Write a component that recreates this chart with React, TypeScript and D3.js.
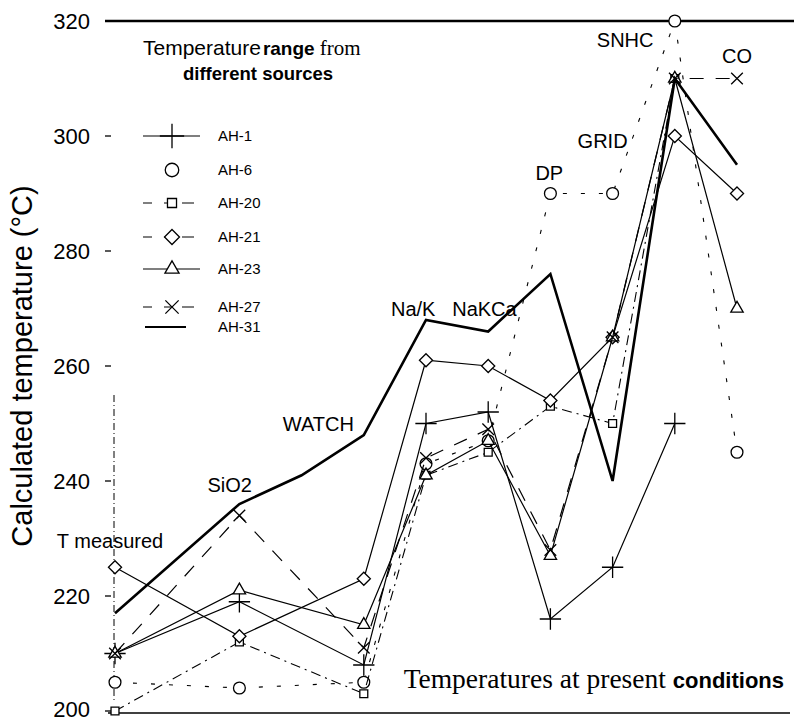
import React from "react";
import * as d3 from "d3";

// ---- data ----
const categories = ["T measured", "", "SiO2", "", "WATCH", "Na/K", "NaKCa", "DP", "GRID", "SNHC", "CO"];
const yTicks = [200, 220, 240, 260, 280, 300, 320];

const ah1 = [210, null, 219, null, 208, 250, 252, 216, 225, 250, null];
const ah6 = [205, null, 204, null, 205, 243, 247, 290, 290, 320, 245];
const ah20 = [200, null, 212, null, 203, 241, 245, 253, 250, 310, null];
const ah21 = [225, null, 213, null, 223, 261, 260, 254, 265, 300, 290];
const ah23 = [210, null, 221, null, 215, 241, 247, 227, 265, 310, 270];
const ah27 = [210, null, 234, null, 211, 244, 249, 228, 265, 310, 310];
const ah31 = [217, null, 236, 241, 248, 268, 266, 276, 240, 310, 295];

const seriesNames = ["AH-1", "AH-6", "AH-20", "AH-21", "AH-23", "AH-27", "AH-31"];
const seriesValues = [ah1, ah6, ah20, ah21, ah23, ah27, ah31];

// ---- styling ----
const W = 794;
const H = 722;
const FONT = "Arial, 'Liberation Sans', sans-serif";
const SERIF = "'Times New Roman', 'Liberation Serif', serif";

type Style = { symbol: any | null; dash: string | null; width: number; size: number };
const styles: Style[] = [
  { symbol: d3.symbolPlus, dash: null, width: 1.2, size: 150 },
  { symbol: d3.symbolCircle, dash: "4,14", width: 1.1, size: 110 },
  { symbol: d3.symbolSquare2, dash: "10,5,2,5", width: 1.1, size: 80 },
  { symbol: d3.symbolDiamond2, dash: null, width: 1.2, size: 110 },
  { symbol: d3.symbolTriangle2, dash: null, width: 1.2, size: 110 },
  { symbol: d3.symbolX, dash: "14,12", width: 1.2, size: 90 },
  { symbol: null, dash: null, width: 2.6, size: 0 },
];

const labelY: Record<string, number> = {
  "T measured": 548,
  SiO2: 492,
  WATCH: 431,
  "Na/K": 316,
  NaKCa: 316,
  DP: 180,
  GRID: 148,
  SNHC: 47,
  CO: 63,
};
const labelDx: Record<string, number> = {
  "T measured": -5,
  SiO2: -32,
  WATCH: -81,
  "Na/K": -35,
  NaKCa: -36,
  DP: -15,
  GRID: -35,
  SNHC: -78,
  CO: -15,
};

export default function App() {
  const x = d3.scaleLinear().domain([0, categories.length - 1]).range([115, 737]);
  const y = d3.scaleLinear().domain([200, 320]).range([711, 21]);

  const line = d3
    .line<{ i: number; v: number }>()
    .x((d) => x(d.i))
    .y((d) => y(d.v));

  const legendY = [136, 170, 203, 237, 269, 307, 327];

  return (
    <svg width={W} height={H} style={{ position: "absolute", left: 0, top: 0, background: "#fff" }}>
      <rect width={W} height={H} fill="#fff" />
      {/* frame lines */}
      <line x1={105} x2={794} y1={y(320)} y2={y(320)} stroke="#000" strokeWidth={2.5} />
      <line x1={108} x2={790} y1={y(200) + 2} y2={y(200) + 2} stroke="#000" strokeWidth={1.4} />
      <line x1={x(0) - 1} x2={x(0) - 1} y1={395} y2={700} stroke="#000" strokeWidth={1} strokeDasharray="7,3,1,3" />

      {/* y ticks */}
      {yTicks.map((t) => (
        <g key={t}>
          <text
            x={90}
            y={t === 200 ? y(t) - 2 : y(t)}
            dy="0.35em"
            textAnchor="end"
            fontFamily={FONT}
            fontSize={22}
            fill="#000"
          >
            {t}
          </text>
          {t !== 320 && <line x1={105} x2={111} y1={y(t)} y2={y(t)} stroke="#000" strokeWidth={1.3} />}
        </g>
      ))}

      {/* y title */}
      <text
        transform={`translate(32,366) rotate(-90)`}
        textAnchor="middle"
        fontFamily={FONT}
        fontSize={29}
        fill="#000"
      >
        Calculated temperature (°C)
      </text>

      {/* series lines */}
      {seriesValues.map((vals, si) => {
        const pts = vals
          .map((v, i) => ({ i, v: v as number }))
          .filter((d) => d.v !== null && d.v !== undefined);
        const st = styles[si];
        return (
          <g key={seriesNames[si]}>
            <path
              d={line(pts) || ""}
              fill="none"
              stroke="#000"
              strokeWidth={st.width}
              strokeDasharray={st.dash || undefined}
            />
            {st.symbol &&
              pts.map((d) => (
                <path
                  key={d.i}
                  transform={`translate(${x(d.i)},${y(d.v)})`}
                  d={d3.symbol(st.symbol, st.size)() || ""}
                  fill="#fff"
                  stroke="#000"
                  strokeWidth={1.3}
                />
              ))}
          </g>
        );
      })}

      {/* category annotations */}
      {categories.map((c, i) =>
        c ? (
          <text
            key={c}
            x={x(i) + labelDx[c]}
            y={labelY[c]}
            textAnchor={c === "T measured" ? "middle" : "start"}
            fontFamily={FONT}
            fontSize={20}
            fill="#000"
          >
            {c}
          </text>
        ) : null
      )}

      {/* legend */}
      <text x={143} y={55} fontFamily={FONT} fontSize={21} fill="#000">
        <tspan>Temperature</tspan>
        <tspan fontWeight="bold" fontSize={19} dx={2}>range</tspan>
        <tspan fontFamily={SERIF} fontSize={21} dx={5}>from</tspan>
      </text>
      <text x={183} y={80} fontFamily={FONT} fontSize={18.5} fontWeight="bold" fill="#000">
        different sources
      </text>
      {seriesNames.map((n, si) => {
        const st = styles[si];
        const ly = legendY[si];
        return (
          <g key={n}>
            {si !== 1 && (
              <line
                x1={si === 6 ? 145 : 143}
                x2={si === 6 ? 186 : 200}
                y1={ly}
                y2={ly}
                stroke="#000"
                strokeWidth={si === 6 ? 2 : 1.1}
                strokeDasharray={si === 6 ? undefined : si === 0 || si === 4 ? undefined : "9,12,9"}
              />
            )}
            {st.symbol && (
              <path
                transform={`translate(172,${ly})`}
                d={d3.symbol(st.symbol, st.size * 1.3)() || ""}
                fill="#fff"
                stroke="#000"
                strokeWidth={1.3}
              />
            )}
            <text x={218} y={ly} dy="0.36em" fontFamily={FONT} fontSize={15} fill="#000">
              {n}
            </text>
          </g>
        );
      })}

      {/* bottom note */}
      <text x={784} y={688} textAnchor="end" fill="#000">
        <tspan fontFamily={SERIF} fontSize={27.5}>Temperatures at present </tspan>
        <tspan fontFamily={FONT} fontSize={22} fontWeight="bold">conditions</tspan>
      </text>
    </svg>
  );
}
